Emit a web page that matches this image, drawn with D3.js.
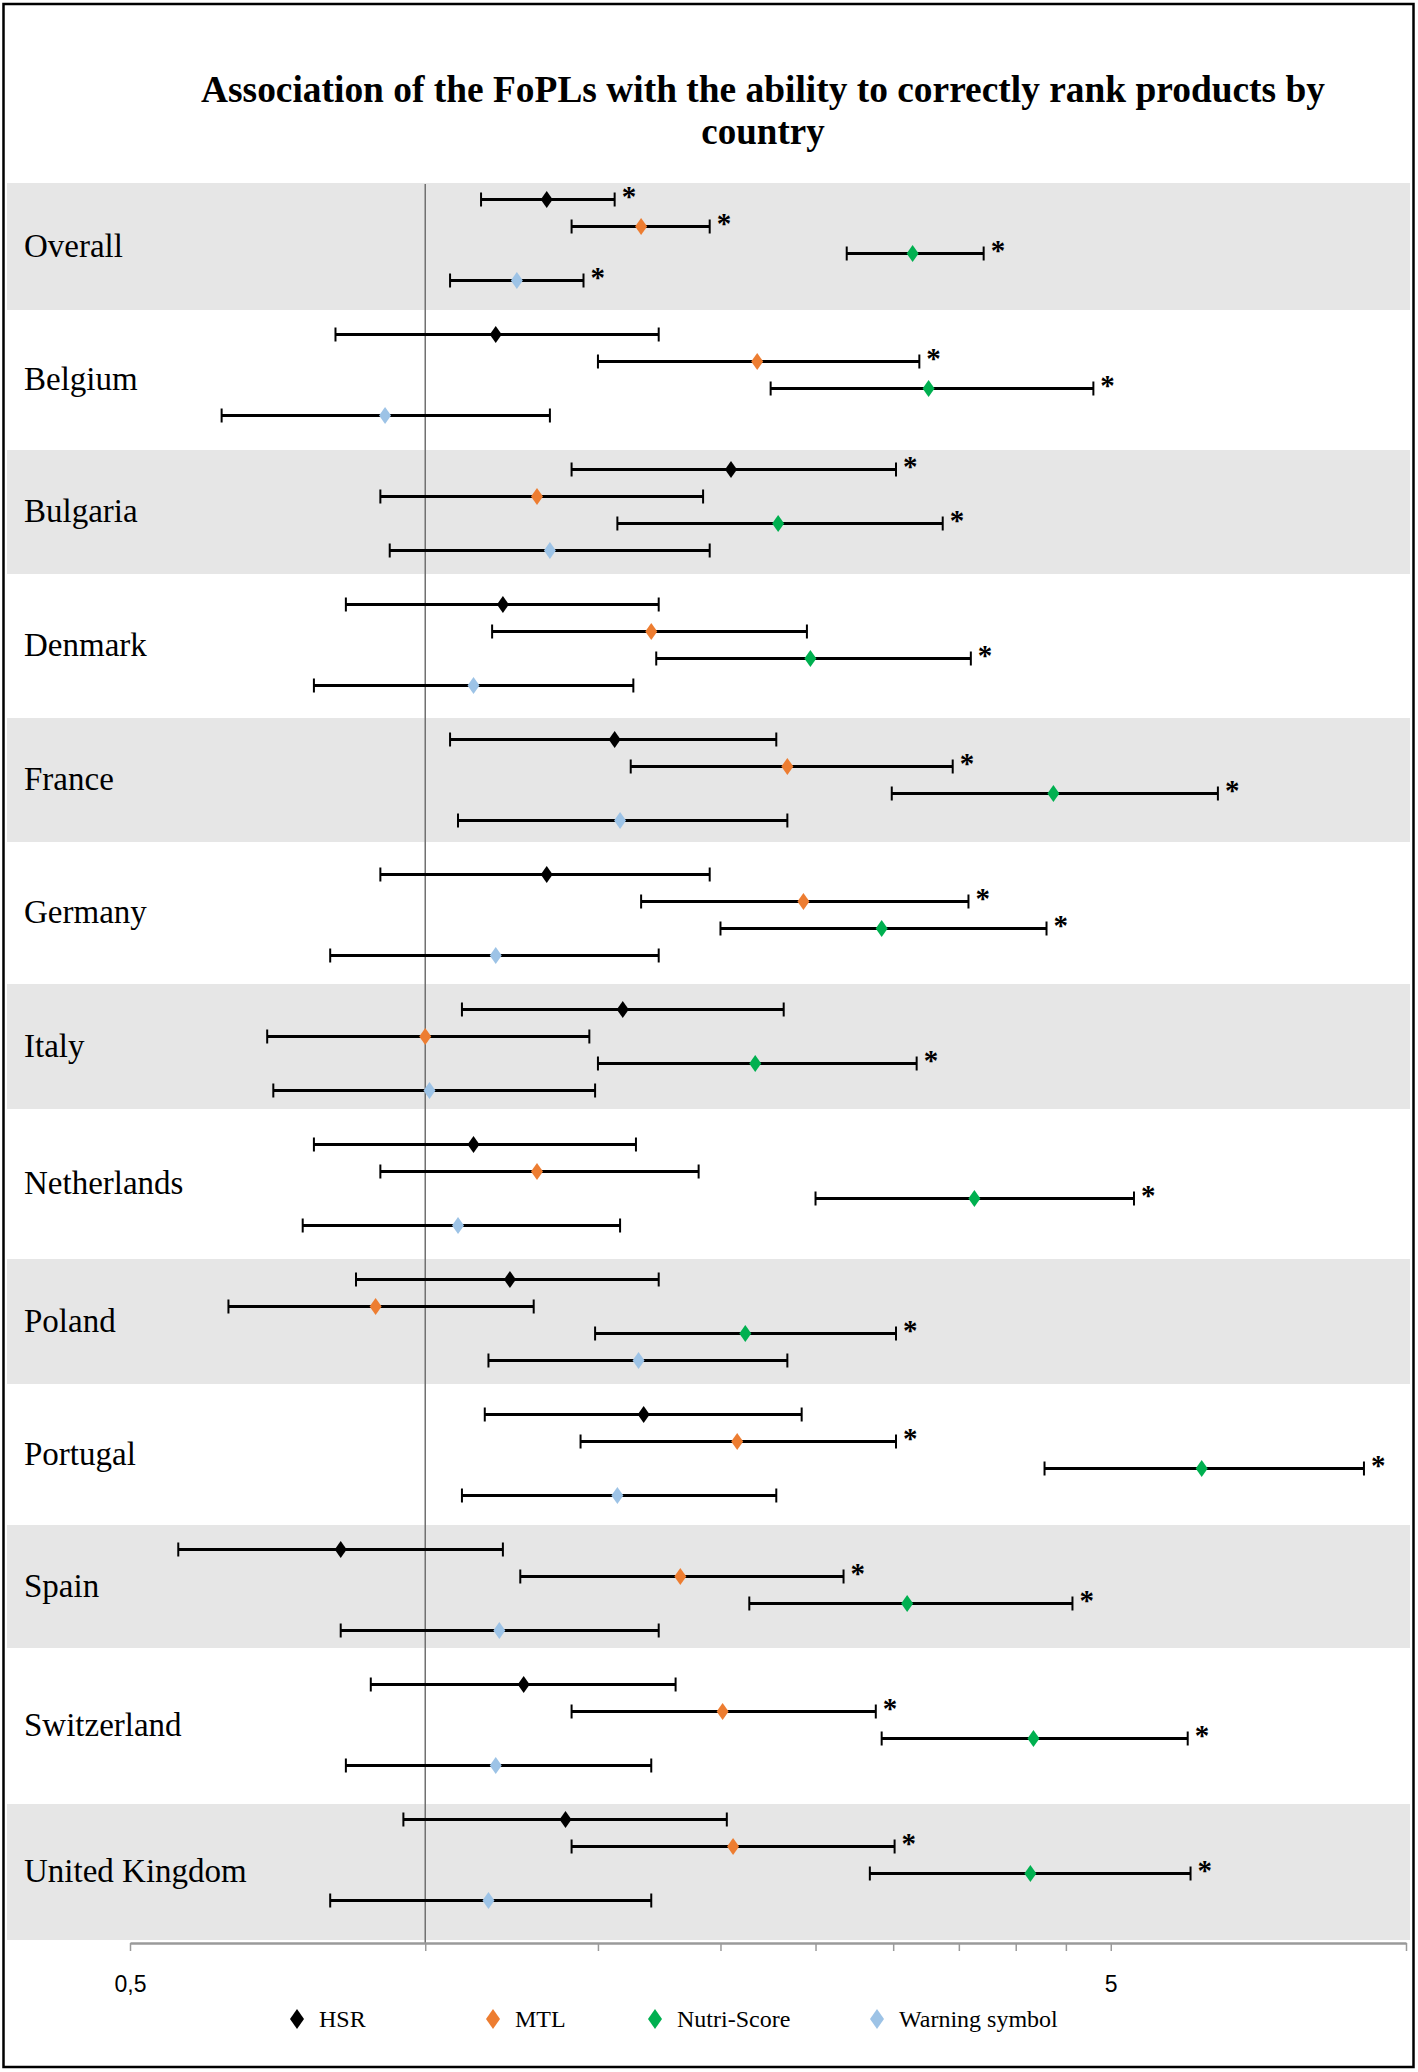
<!DOCTYPE html>
<html><head><meta charset="utf-8">
<script src="https://cdn.jsdelivr.net/npm/d3@7"></script>
<style>html,body{margin:0;padding:0;background:#fff;} svg{display:block;}</style>
</head><body>
<svg id="chart" width="1418" height="2072"></svg>
<script>
// ---------- DATA ----------
const countries = ["Overall","Belgium","Bulgaria","Denmark","France","Germany","Italy",
  "Netherlands","Poland","Portugal","Spain","Switzerland","United Kingdom"];
const seriesNames = ["HSR","MTL","Nutri-Score","Warning symbol"];
const seriesColors = ["#000000","#ED7D31","#00B050","#9DC3E6"];

const hsrOR   = [1.33,1.18,2.05,1.20,1.56,1.33,1.59,1.12,1.22,1.67,0.82,1.26,1.39];
const hsrLow  = [1.14,0.81,1.41,0.83,1.06,0.90,1.09,0.77,0.85,1.15,0.56,0.88,0.95];
const hsrHigh = [1.56,1.73,3.02,1.73,2.28,1.95,2.32,1.64,1.73,2.42,1.20,1.80,2.03];
const hsrSig  = [1,0,1,0,0,0,0,0,0,0,0,0,0];

const mtlOR   = [1.66,2.18,1.30,1.70,2.34,2.43,1.00,1.30,0.89,2.08,1.82,2.01,2.06];
const mtlLow  = [1.41,1.50,0.90,1.17,1.62,1.66,0.69,0.90,0.63,1.44,1.25,1.41,1.41];
const mtlHigh = [1.95,3.19,1.92,2.45,3.45,3.58,1.47,1.90,1.29,3.02,2.67,2.88,3.01];
const mtlSig  = [1,1,0,0,1,1,0,0,0,1,1,1,1];

const nsOR    = [3.14,3.26,2.29,2.47,4.37,2.92,2.17,3.63,2.12,6.19,3.10,4.17,4.14];
const nsLow   = [2.69,2.25,1.57,1.72,2.99,2.00,1.50,2.50,1.49,4.28,2.14,2.92,2.84];
const nsHigh  = [3.71,4.80,3.37,3.60,6.43,4.30,3.17,5.28,3.02,9.06,4.57,5.99,6.03];
const nsSig   = [1,1,1,1,1,1,1,1,1,1,1,1,1];

const wsOR    = [1.24,0.91,1.34,1.12,1.58,1.18,1.01,1.08,1.65,1.57,1.19,1.18,1.16];
const wsLow   = [1.06,0.62,0.92,0.77,1.08,0.80,0.70,0.75,1.16,1.09,0.82,0.83,0.80];
const wsHigh  = [1.45,1.34,1.95,1.63,2.34,1.73,1.49,1.58,2.34,2.28,1.73,1.70,1.70];
const wsSig   = [1,0,0,0,0,0,0,0,0,0,0,0,0];

const xTickValues = [0.5,1,1.5,2,2.5,3,3.5,4,4.5,5,10];
const xTickLabels = new Map([[0.5,"0,5"],[5,"5"]]);
const titleLines = ["Association of the FoPLs with the ability to correctly rank products by","country"];

// ---------- BUILD ----------
const seriesData = [
  {or:hsrOR, lo:hsrLow, hi:hsrHigh, sig:hsrSig},
  {or:mtlOR, lo:mtlLow, hi:mtlHigh, sig:mtlSig},
  {or:nsOR,  lo:nsLow,  hi:nsHigh,  sig:nsSig},
  {or:wsOR,  lo:wsLow,  hi:wsHigh,  sig:wsSig}
];
const rows = [];
countries.forEach((c,ci)=>{
  seriesData.forEach((s,si)=>{
    rows.push({country:c, series:si, slot:ci*5+si, or:s.or[ci], lo:s.lo[ci], hi:s.hi[ci], sig:s.sig[ci]});
  });
});

const svg = d3.select("#chart");
const W = 1418, H = 2072;
svg.append("rect").attr("x",0).attr("y",0).attr("width",W).attr("height",H).attr("fill","#fff");

const x = d3.scaleLog().domain([0.5,10]).range([130,1406]);
const y = d3.scaleLinear().domain([0,63]).range([199.5,1900.5]);

// background bands (layout)
const bandEdges = [183,310,450,574,718,842,984,1109,1259,1384,1525,1648,1804,1940];
const bandG = svg.append("g");
countries.forEach((c,i)=>{
  if(i%2===0){
    bandG.append("rect").attr("x",7).attr("y",bandEdges[i]).attr("width",1403)
      .attr("height",bandEdges[i+1]-bandEdges[i]).attr("fill","#e6e6e6");
  }
});
// country labels
svg.append("g").selectAll("text").data(countries).join("text")
  .attr("x",24)
  .attr("y",(d,i)=>(bandEdges[i]+bandEdges[i+1])/2 + 10)
  .attr("font-family","'Liberation Serif','Times New Roman',serif")
  .attr("font-size",33).attr("fill","#000")
  .text(d=>d);

// reference line at OR = 1
svg.append("line").attr("x1",x(1)).attr("x2",x(1)).attr("y1",184).attr("y2",1943)
  .attr("stroke","#707070").attr("stroke-width",1.5);

// axis
const axis = d3.axisBottom(x).tickValues(xTickValues).tickSize(8).tickSizeOuter(0)
  .tickPadding(25).tickFormat(d=>xTickLabels.get(d)||"");
const axG = svg.append("g").attr("transform","translate(0,1943)").call(axis);
axG.select(".domain").attr("stroke","#9a9a9a").attr("stroke-width",2.5);
axG.selectAll(".tick line").attr("stroke","#9a9a9a").attr("stroke-width",1.5);
axG.selectAll(".tick text").attr("font-family","'Liberation Sans',Arial,sans-serif")
  .attr("font-size",23).attr("fill","#000");

// error bars
const eb = svg.append("g");
eb.selectAll("line.ci").data(rows).join("line").attr("class","ci")
  .attr("x1",d=>x(d.lo)).attr("x2",d=>x(d.hi))
  .attr("y1",d=>y(d.slot)).attr("y2",d=>y(d.slot))
  .attr("stroke","#000").attr("stroke-width",3);
eb.selectAll("line.capL").data(rows).join("line").attr("class","capL")
  .attr("x1",d=>x(d.lo)).attr("x2",d=>x(d.lo))
  .attr("y1",d=>y(d.slot)-7).attr("y2",d=>y(d.slot)+7)
  .attr("stroke","#000").attr("stroke-width",2);
eb.selectAll("line.capR").data(rows).join("line").attr("class","capR")
  .attr("x1",d=>x(d.hi)).attr("x2",d=>x(d.hi))
  .attr("y1",d=>y(d.slot)-7).attr("y2",d=>y(d.slot)+7)
  .attr("stroke","#000").attr("stroke-width",2);

// markers
const diamond = (w,h)=>`M0,${-h}L${w},0L0,${h}L${-w},0Z`;
svg.append("g").selectAll("path").data(rows).join("path")
  .attr("transform",d=>`translate(${x(d.or)},${y(d.slot)})`)
  .attr("d",diamond(6,8.5))
  .attr("fill",d=>seriesColors[d.series]);

// significance stars
svg.append("g").selectAll("text").data(rows.filter(d=>d.sig)).join("text")
  .attr("x",d=>x(d.hi)+7).attr("y",d=>y(d.slot)+6)
  .attr("font-family","'Liberation Serif','Times New Roman',serif")
  .attr("font-weight","bold").attr("font-size",29).attr("fill","#000")
  .text("*");

// title
const tG = svg.append("g").attr("font-family","'Liberation Serif','Times New Roman',serif")
  .attr("font-weight","bold").attr("font-size",37).attr("text-anchor","middle");
tG.append("text").attr("x",763).attr("y",102).attr("textLength",1124)
  .attr("lengthAdjust","spacingAndGlyphs").text(titleLines[0]);
tG.append("text").attr("x",763).attr("y",144).text(titleLines[1]);

// legend
const legX = [297,493,655,877];
const lg = svg.append("g");
seriesNames.forEach((n,i)=>{
  lg.append("path").attr("transform",`translate(${legX[i]},2019)`).attr("d",diamond(7,10))
    .attr("fill",seriesColors[i]);
  lg.append("text").attr("x",legX[i]+22).attr("y",2027)
    .attr("font-family","'Liberation Serif','Times New Roman',serif")
    .attr("font-size",24).attr("fill","#000").text(n);
});

// outer border
svg.append("rect").attr("x",3.5).attr("y",4).attr("width",1410).attr("height",2063)
  .attr("fill","none").attr("stroke","#000").attr("stroke-width",2.5);
</script>
</body></html>
